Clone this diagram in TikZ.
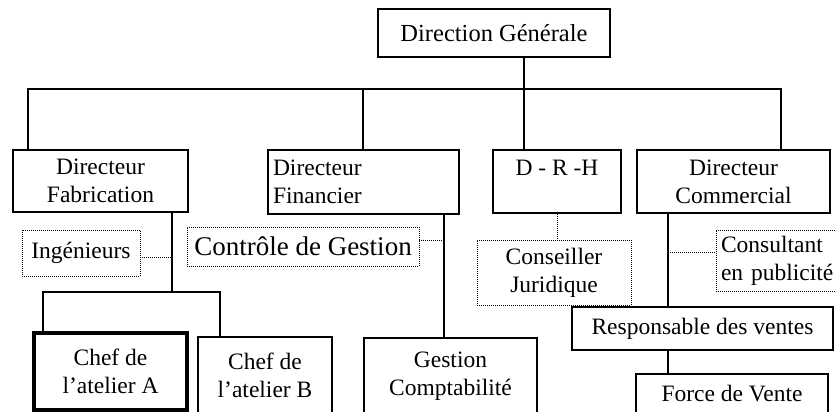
\documentclass[tikz,border=0pt]{standalone}
\usepackage{fontspec}
\setmainfont{Liberation Serif}
\begin{document}
\begin{tikzpicture}[x=1pt,y=-1pt,
  txt/.style={font=\fontsize{23.5}{28}\selectfont},
  box/.style={draw,line width=2.7pt,inner sep=0pt,align=center,txt},
  dbox/.style={draw,line width=0.8pt,dash pattern=on 1pt off 1pt,inner sep=0pt,align=center,txt},
  conn/.style={line width=2.7pt},
  dconn/.style={line width=0.8pt,dash pattern=on 1pt off 1pt}]
\useasboundingbox (0,0) rectangle (835,412);
% main boxes
\node[box,minimum width=232pt,minimum height=48pt,font=\fontsize{24.5}{28}\selectfont] (dg) at (494,33) {Direction Générale};
\node[box,minimum width=175pt,minimum height=62pt] (fab) at (100.5,181) {Directeur\\Fabrication};
\node[box,align=left,text width=181pt,inner xsep=5pt,minimum height=64pt] (fin) at (363.5,182) {Directeur\\Financier};
\node[box,minimum width=128pt,minimum height=63pt] (drh) at (557,181.5) {D - R -H\\[0pt]~};
\node[box,minimum width=193pt,minimum height=63pt] (com) at (733.5,181.5) {Directeur\\Commercial};
% dotted boxes
\node[dbox,minimum width=118pt,minimum height=46pt] (ing) at (81,253) {Ingénieurs};
\node[dbox,minimum width=232pt,minimum height=39pt,font=\fontsize{27}{30}\selectfont] (cdg) at (303,246.5) {Contrôle de Gestion};
\node[dbox,minimum width=154pt,minimum height=65pt] (cj) at (554,272.5) {Conseiller\\Juridique};
\node[dbox,align=left,text width=200pt,inner xsep=5pt,minimum height=61pt] (cons) at (821,260.5) {Consultant\\en publicité};
% lower boxes
\node[box,minimum width=261pt,minimum height=43pt] (resp) at (702.5,328.5) {Responsable des ventes};
\node[box,minimum width=192pt,minimum height=40pt] (force) at (732,394) {Force de Vente};
\node[box,line width=3.1pt,minimum width=153pt,minimum height=77pt] (chefA) at (110.5,371.5) {Chef de\\l’atelier A};
\node[box,minimum width=134pt,minimum height=77pt] (chefB) at (265,375.5) {Chef de\\l’atelier B};
\node[box,minimum width=173pt,minimum height=76pt] (gest) at (450.5,376) {Gestion\\Comptabilité};
% junction coordinates
\coordinate (j) at (524,89);
\coordinate (bl) at (28,89);
\coordinate (br) at (781,89);
\coordinate (bf) at (363,89);
\coordinate (fa) at (172,292);
\coordinate (ca) at (43,292);
\coordinate (cb) at (220,292);
\coordinate (fg) at (444,240);
\coordinate (cr) at (668,252);
\coordinate (ig) at (140,257);
% top level connectors
\draw[conn] (dg.south -| j) -- (j);
\draw[conn] (bl |- fab.north) -- (bl) -- (br) -- (br |- com.north);
\draw[conn] (bf) -- (bf |- fin.north);
\draw[conn] (j) -- (j |- drh.north);
% fabrication
\draw[conn] (fa |- fab.south) -- (fa);
\draw[conn] (ca |- chefA.north) -- (ca) -- (cb) -- (cb |- chefB.north);
\draw[dconn] (ig -| ing.east) -- (ig -| fa);
% financier
\draw[conn] (fg |- fin.south) -- (fg |- gest.north);
\draw[dconn] (fg -| cdg.east) -- (fg);
% drh
\draw[dconn] (drh.south) -- (drh.south |- cj.north);
% commercial
\draw[conn] (cr |- com.south) -- (cr |- resp.north);
\draw[conn] (cr |- resp.south) -- (cr |- force.north);
\draw[dconn] (cr) -- (cr -| cons.west);
\end{tikzpicture}
\end{document}
